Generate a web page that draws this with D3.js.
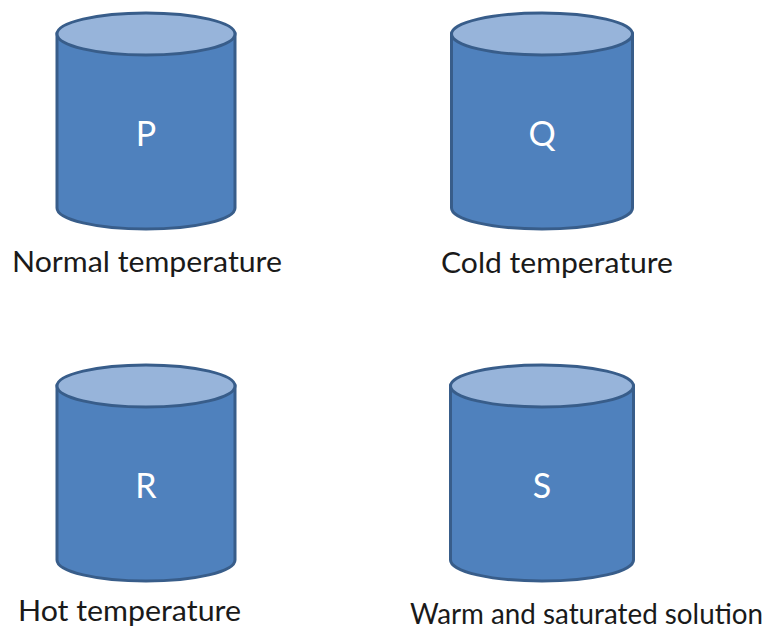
<!DOCTYPE html>
<html><head><meta charset="utf-8">
<script src="https://cdn.jsdelivr.net/npm/d3@7"></script>
<style>html,body{margin:0;padding:0;background:#fff;}svg{display:block;}</style>
</head><body>
<svg id="c" width="766" height="630"></svg>
<script>
const letters = ["P", "Q", "R", "S"];
const labels = ["Normal temperature", "Cold temperature", "Hot temperature", "Warm and saturated solution"];
const cols = ["left", "right", "left", "right"];
const rows = ["top", "top", "bottom", "bottom"];

const svg = d3.select("#c");
const x = d3.scalePoint().domain(["left", "right"]).range([146, 542]);
const y = d3.scalePoint().domain(["top", "bottom"]).range([34, 386]);
const rx = [89, 90.5, 89, 91.5];
const ry = 21, h = 174;
const labelX = [12, 441, 18, 410];
const labelW = [270, 232, 223, 353];
const labelY = [272, 273, 621, 624];

const g = svg.selectAll("g.cyl").data(letters).enter().append("g").attr("class", "cyl");
g.append("path")
  .attr("d", (d, i) => {
    const cx = x(cols[i]), cy = y(rows[i]), r = rx[i];
    return `M${cx - r},${cy} L${cx - r},${cy + h} A${r},${ry} 0 0 0 ${cx + r},${cy + h} L${cx + r},${cy} Z`;
  })
  .attr("fill", "#4F81BD").attr("stroke", "#385D8A").attr("stroke-width", 3);
g.append("ellipse")
  .attr("cx", (d, i) => x(cols[i])).attr("cy", (d, i) => y(rows[i]))
  .attr("rx", (d, i) => rx[i]).attr("ry", ry)
  .attr("fill", "#97B4DA").attr("stroke", "#385D8A").attr("stroke-width", 3);
g.append("text")
  .attr("x", (d, i) => x(cols[i])).attr("y", (d, i) => y(rows[i]) + 112)
  .attr("text-anchor", "middle")
  .attr("font-family", "Lato, 'Open Sans', sans-serif").attr("font-size", 34)
  .attr("fill", "#fff").text(d => d);
g.append("text")
  .attr("x", (d, i) => labelX[i]).attr("y", (d, i) => labelY[i])
  .attr("font-family", "Lato, 'Open Sans', sans-serif").attr("font-size", 28)
  .attr("fill", "#1a1a1a")
  .attr("textLength", (d, i) => labelW[i]).attr("lengthAdjust", "spacingAndGlyphs")
  .text((d, i) => labels[i]);
</script>
</body></html>
